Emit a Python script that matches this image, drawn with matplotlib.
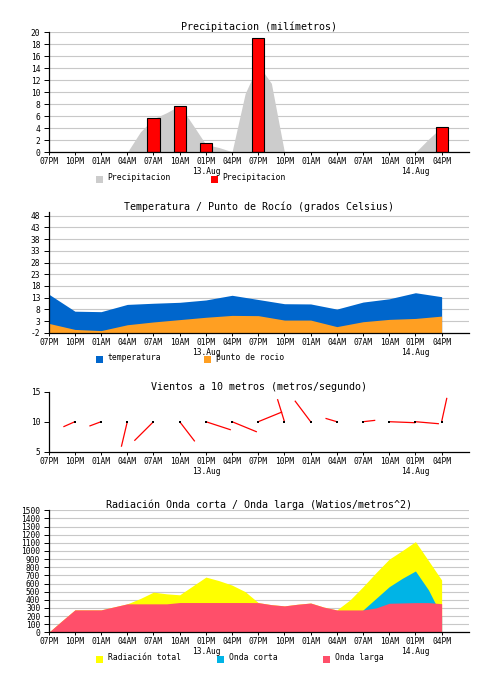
import matplotlib
matplotlib.use('Agg')
import matplotlib.pyplot as plt
from matplotlib.patches import Rectangle
import numpy as np

plt.rcParams['font.family'] = ['DejaVu Sans Mono', 'DejaVu Sans']
plt.rcParams['axes.unicode_minus'] = False

# ---------- data ----------
tick_hours = [0, 3, 6, 9, 12, 15, 18, 21, 24, 27, 30, 33, 36, 39, 42, 45]
tick_labels = ['07PM', '10PM', '01AM', '04AM', '07AM', '10AM', '01PM\n13.Aug', '04PM',
               '07PM', '10PM', '01AM', '04AM', '07AM', '10AM', '01PM\n14.Aug', '04PM']

# half-step time base (hours since 07PM 12.Aug)
fine_hours = [0, 1.5, 3, 4.5, 6, 7.5, 9, 10.5, 12, 13.5, 15, 16.5, 18, 19.5, 21, 22.5,
              24, 25.5, 27, 28.5, 30, 31.5, 33, 34.5, 36, 37.5, 39, 40.5, 42, 43.5, 45]

rain_smooth = [0, 0, 0, 0, 0, 0, 0, 3.4, 5.6, 6.6, 7.8, 4.6, 1.3, 0.8, 0.1, 9.8,
               14.6, 11.5, 0, 0, 0, 0, 0, 0, 0, 0, 0, 0, 0, 2.2, 4.2]
rain_bar_hours = [12, 15, 18, 24, 45]
rain_bar_mm = [5.7, 7.8, 1.5, 19.0, 4.2]

temp = [14.5, 7.2, 7.0, 10.1, 10.6, 11.0, 12.0, 14.0, 12.2, 10.4, 10.3, 8.1, 11.1, 12.5, 15.1, 13.4]
dew = [2.0, -0.6, -1.1, 1.4, 2.6, 3.6, 4.6, 5.4, 5.3, 3.4, 3.4, 0.6, 2.7, 3.7, 4.1, 5.1]

wind_hours = [3, 6, 9, 12, 15, 18, 21, 24, 27, 30, 33, 36, 39, 42, 45]
wind_speed = [10, 10, 10, 10, 10, 10, 10, 10, 10, 10, 10, 10, 10, 10, 10]
wind_dx = [-1.32, -1.34, -0.68, -2.19, 1.73, 2.86, 2.84, 2.74, -0.8, -1.81, -1.3, 1.4, 2.98, 2.69, 0.6]
wind_dy = [-0.85, -0.73, -4.17, -3.17, -3.28, -1.36, -1.7, 1.63, 3.76, 3.5, 0.56, 0.23, -0.17, -0.34, 3.98]

rad_total = [0, 140, 276, 276, 276, 313, 350, 416, 494, 473, 461, 570, 679, 635, 580, 500,
             365, 340, 325, 345, 360, 310, 275, 398, 561, 735, 900, 1005, 1115, 880, 643]
rad_corta = [0, 0, 0, 0, 0, 0, 0, 0, 0, 0, 0, 0, 0, 0, 0, 0,
             0, 0, 0, 0, 0, 0, 0, 0, 275, 418, 561, 664, 754, 520, 200]
rad_larga = [0, 140, 276, 276, 276, 313, 350, 350, 350, 350, 366, 366, 366, 366, 366, 366,
             365, 340, 325, 345, 360, 310, 275, 275, 275, 300, 357, 361, 365, 365, 352]

W, H = 488, 682
fig = plt.figure(figsize=(W / 100, H / 100), dpi=100)


def make_axes(top, bottom):
    # pixel rows -> figure fraction
    return fig.add_axes([48.7 / W, 1 - bottom / H, 420 / W, (bottom - top) / H])


def style(ax, yticks, grid=True):
    ax.set_xlim(0, 48.1)
    ax.set_xticks(tick_hours)
    ax.set_xticklabels(tick_labels, fontsize=5.7, linespacing=1.15)
    ax.set_yticks(yticks)
    ax.set_yticklabels([str(v) for v in yticks], fontsize=5.7)
    for s in ['top', 'right']:
        ax.spines[s].set_visible(False)
    for s in ['left', 'bottom']:
        ax.spines[s].set_linewidth(0.9)
        ax.spines[s].set_zorder(5)
    ax.tick_params(axis='y', length=3.6, width=0.7, pad=2.5)
    ax.tick_params(axis='x', length=2.2, width=0.7, pad=1.5)
    if grid:
        ax.yaxis.grid(True, color='#c8c8c8', lw=0.8)
        ax.set_axisbelow(True)


def title(ax, text):
    ax.set_title(text, fontsize=7.2, pad=1.5)


def legend(items, y):
    for x, color, label in items:
        fig.add_artist(Rectangle((x / W, 1 - (y + 7) / H), 7 / W, 7 / H,
                                 transform=fig.transFigure, color=color, lw=0))
        fig.text((x + 11.7) / W, 1 - (y + 1.5) / H, label, fontsize=5.8, va='center', ha='left')


# ---------- precipitation ----------
ax1 = make_axes(32.3, 152.3)
ax1.set_ylim(0, 20)
ax1.fill_between(fine_hours, 0, rain_smooth, color='#cccccc', lw=0)
ax1.bar(rain_bar_hours, rain_bar_mm, width=1.4, color='#ff0000', edgecolor='black', linewidth=0.8, zorder=3)
style(ax1, list(range(0, 21, 2)))
title(ax1, 'Precipitacion (milímetros)')
legend([(96, '#cccccc', 'Precipitacion'), (211, '#ff0000', 'Precipitacion')], 176)

# ---------- temperature / dew point ----------
ax2 = make_axes(212.3, 332.7)
ax2.set_ylim(-2, 49.5)
ax2.fill_between(tick_hours, -2, temp, color='#0066cc', lw=0)
ax2.fill_between(tick_hours, -2, dew, color='#ff9f22', lw=0)
style(ax2, list(range(-2, 49, 5)))
title(ax2, 'Temperatura / Punto de Rocío (grados Celsius)')
legend([(96, '#0066cc', 'temperatura'), (204, '#ff9f22', 'punto de rocio')], 356)

# ---------- wind ----------
ax3 = make_axes(391.7, 451.7)
ax3.set_ylim(5, 15)
for h, s, dx, dy in zip(wind_hours, wind_speed, wind_dx, wind_dy):
    ax3.plot([h, h + dx], [s, s + dy], color='#ff0000', lw=0.9, solid_capstyle='butt')
ax3.scatter(wind_hours, wind_speed, marker='s', s=3, color='black', zorder=4, linewidths=0)
style(ax3, [5, 10, 15], grid=False)
title(ax3, 'Vientos a 10 metros (metros/segundo)')

# ---------- radiation ----------
ax4 = make_axes(510.3, 632.3)
ax4.set_ylim(0, 1500)
ax4.fill_between(fine_hours, 0, rad_total, color='#ffff00', lw=0)
ax4.fill_between(fine_hours, 0, rad_corta, color='#00b4e6', lw=0)
ax4.fill_between(fine_hours, 0, rad_larga, color='#ff4f6a', lw=0)
style(ax4, list(range(0, 1501, 100)))
title(ax4, 'Radiación Onda corta / Onda larga (Watios/metros^2)')
legend([(96, '#ffff00', 'Radiación total'), (217, '#00b4e6', 'Onda corta'),
        (323, '#ff4f6a', 'Onda larga')], 656)

fig.savefig('out.png', dpi=100)
